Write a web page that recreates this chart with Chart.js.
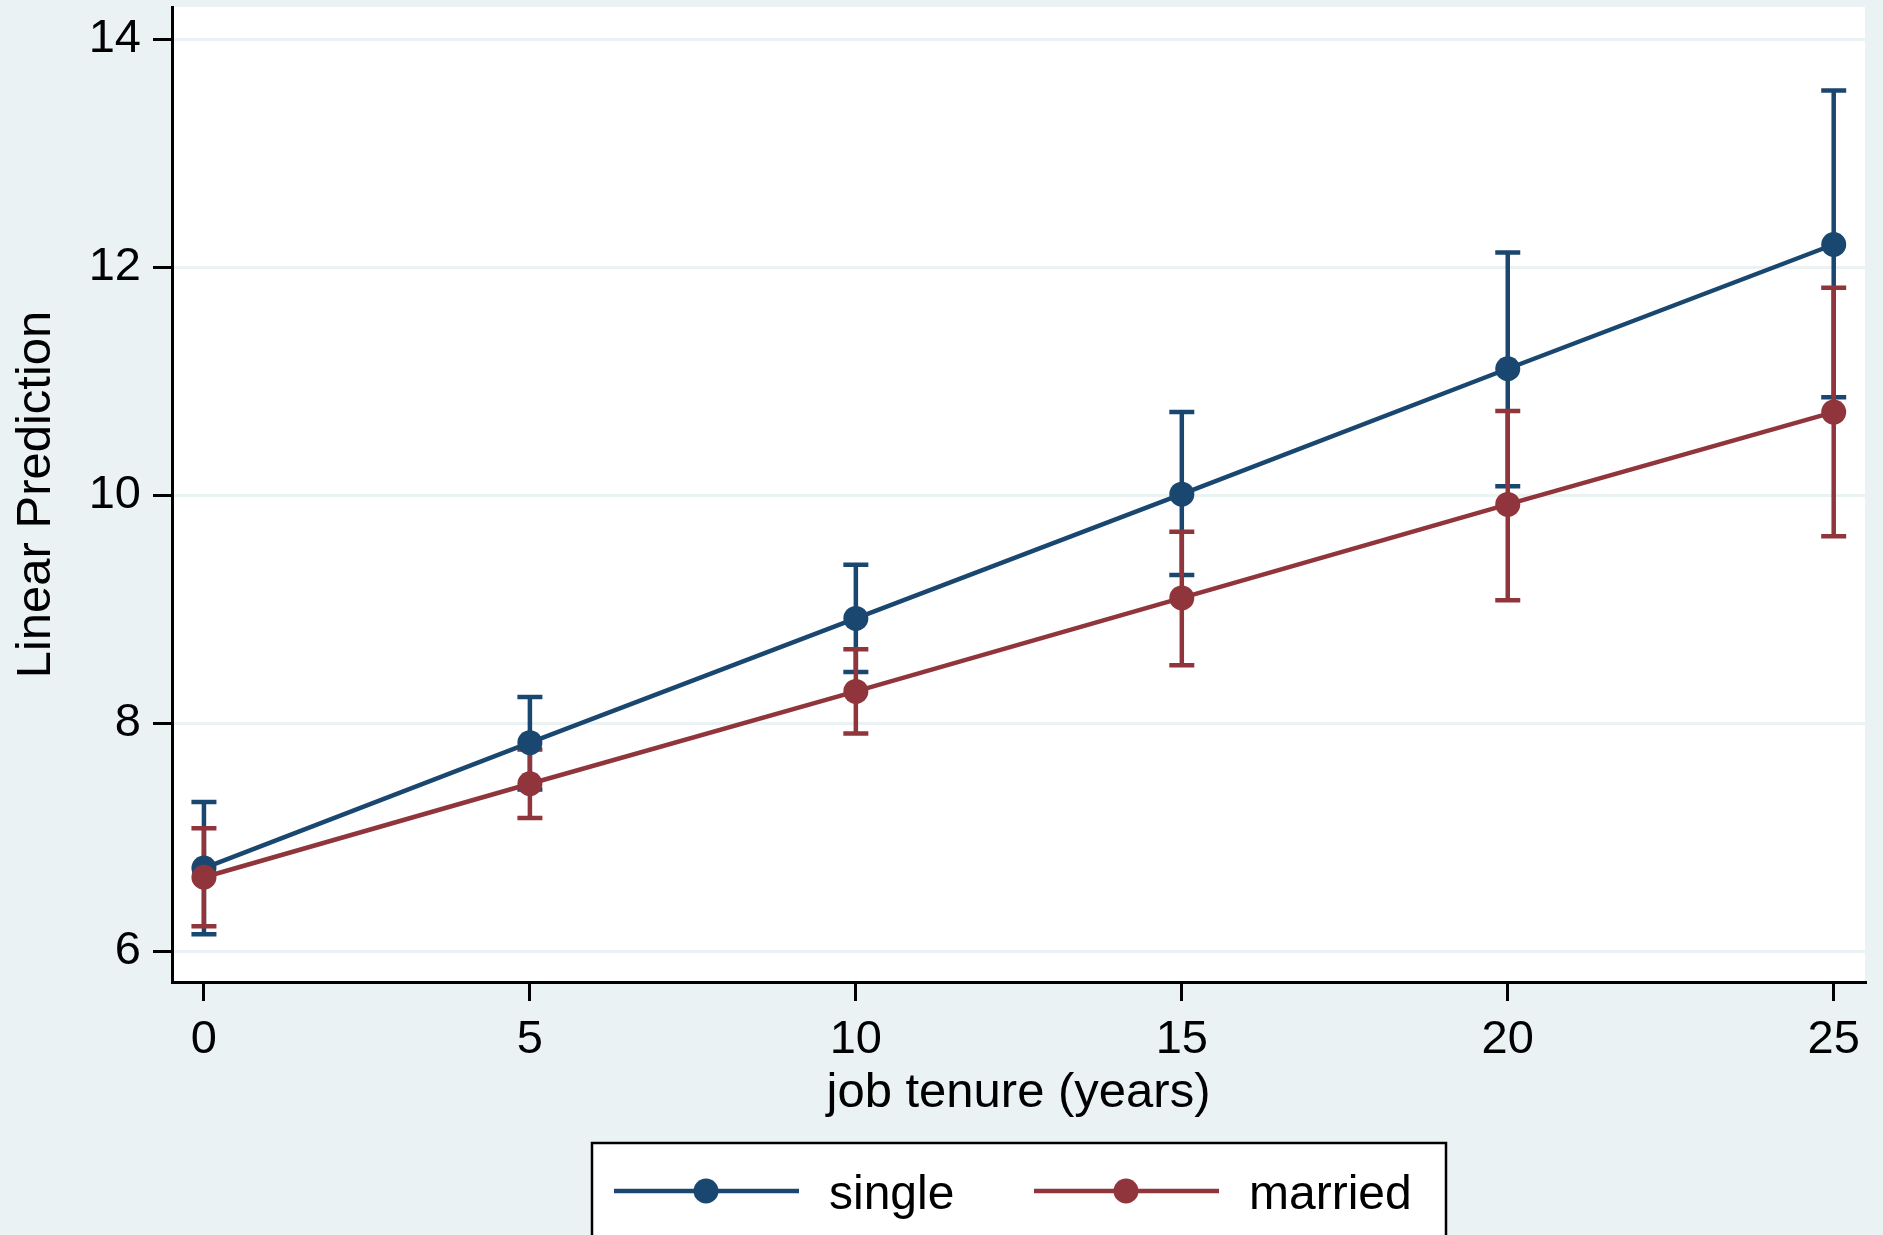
<!DOCTYPE html>
<html>
<head>
<meta charset="utf-8">
<script src="https://cdn.jsdelivr.net/npm/chart.js@4.4.1/dist/chart.umd.min.js"></script>
<style>
  html, body { margin: 0; padding: 0; background: #eaf2f3; }
  #wrap { width: 1883px; height: 1235px; position: relative; }
</style>
</head>
<body>
<div id="wrap"><canvas id="margins"></canvas></div>
<script>
// ===== marginsplot: linear prediction by job tenure =====
const tenure = [0, 5, 10, 15, 20, 25];
const xTicks = [0, 5, 10, 15, 20, 25];
const yTicks = [6, 8, 10, 12, 14];

const singleFit   = [6.73, 7.83, 8.92, 10.01, 11.11, 12.20];
const singleLow   = [6.15, 7.42, 8.45, 9.30, 10.08, 10.86];
const singleHigh  = [7.31, 8.23, 9.39, 10.73, 12.13, 13.55];

const marriedFit  = [6.65, 7.47, 8.28, 9.10, 9.92, 10.73];
const marriedLow  = [6.22, 7.17, 7.91, 8.51, 9.08, 9.64];
const marriedHigh = [7.08, 7.77, 8.65, 9.68, 10.74, 11.82];

const seriesNames = ["single", "married"];

const BLUE = "#1a476f", RED = "#90353b", BG = "#eaf2f3";
const FONT = "'Liberation Sans', Arial, Helvetica, sans-serif";

const ciSets = [
  { low: singleLow, high: singleHigh, color: BLUE },
  { low: marriedLow, high: marriedHigh, color: RED }
];

const pts = (ys) => tenure.map((x, i) => ({ x: x, y: ys[i] }));

// background + white plot region
const plotBg = {
  id: "plotBg",
  beforeDraw(chart) {
    const { ctx, chartArea: a } = chart;
    ctx.save();
    ctx.fillStyle = BG;
    ctx.fillRect(0, 0, chart.width, chart.height);
    ctx.fillStyle = "#ffffff";
    ctx.fillRect(a.left, a.top, a.right - a.left, a.bottom - a.top);
    ctx.restore();
  }
};

// confidence intervals (rcap) under the lines
const ciCaps = {
  id: "ciCaps",
  beforeDatasetsDraw(chart) {
    const { ctx, scales: { x, y } } = chart;
    ctx.save();
    ctx.lineWidth = 4.5;
    ctx.lineCap = "butt";
    ciSets.forEach(s => {
      ctx.strokeStyle = s.color;
      tenure.forEach((t, i) => {
        const px = x.getPixelForValue(t);
        const p1 = y.getPixelForValue(s.low[i]);
        const p2 = y.getPixelForValue(s.high[i]);
        ctx.beginPath();
        ctx.moveTo(px, p1); ctx.lineTo(px, p2);
        ctx.moveTo(px - 12.5, p1); ctx.lineTo(px + 12.5, p1);
        ctx.moveTo(px - 12.5, p2); ctx.lineTo(px + 12.5, p2);
        ctx.stroke();
      });
    });
    ctx.restore();
  }
};

// boxed legend under the plot
const boxLegend = {
  id: "boxLegend",
  afterDraw(chart) {
    const { ctx } = chart;
    ctx.save();
    ctx.strokeStyle = "#000";
    ctx.lineWidth = 2.5;
    ctx.fillStyle = "#ffffff";
    ctx.fillRect(592, 1143, 854, 100);
    ctx.strokeRect(592, 1143, 854, 100);
    const items = [
      { x0: 614, x1: 799, mx: 706, tx: 829, color: BLUE },
      { x0: 1034, x1: 1219, mx: 1126, tx: 1249, color: RED }
    ];
    items.forEach((it, i) => {
      ctx.strokeStyle = it.color;
      ctx.lineWidth = 4.5;
      ctx.beginPath();
      ctx.moveTo(it.x0, 1191); ctx.lineTo(it.x1, 1191);
      ctx.stroke();
      ctx.fillStyle = it.color;
      ctx.beginPath();
      ctx.arc(it.mx, 1191, 12.5, 0, Math.PI * 2);
      ctx.fill();
      ctx.fillStyle = "#000";
      ctx.font = "48px " + FONT;
      ctx.textBaseline = "middle";
      ctx.textAlign = "left";
      ctx.fillText(seriesNames[i], it.tx, 1196);
    });
    ctx.restore();
  }
};

new Chart(document.getElementById("margins"), {
  type: "line",
  data: {
    datasets: [
      { label: seriesNames[0], data: pts(singleFit), borderColor: BLUE, backgroundColor: BLUE,
        borderWidth: 4.5, pointRadius: 12.5, pointBorderWidth: 0, pointBackgroundColor: BLUE, order: 1 },
      { label: seriesNames[1], data: pts(marriedFit), borderColor: RED, backgroundColor: RED,
        borderWidth: 4.5, pointRadius: 12.5, pointBorderWidth: 0, pointBackgroundColor: RED, order: 0 }
    ]
  },
  options: {
    responsive: true, maintainAspectRatio: false, animation: false,
    layout: { autoPadding: false, padding: { left: 0, top: 7, right: 18, bottom: 0 } },
    plugins: { legend: { display: false }, tooltip: { enabled: false } },
    scales: {
      x: {
        type: "linear", min: -0.49, max: 25.48,
        afterBuildTicks: s => { s.ticks = xTicks.map(v => ({ value: v })); },
        afterFit: s => { s.height = 253; s.paddingLeft = 0; s.paddingRight = 0; },
        border: { color: "#000", width: 3 },
        grid: { drawOnChartArea: false, tickColor: "#000", lineWidth: 3, tickLength: 19 },
        ticks: { color: "#000", padding: 11, maxRotation: 0, font: { family: FONT, size: 47 } },
        title: { display: true, text: "job tenure (years)", color: "#000",
                 font: { family: FONT, size: 49 }, padding: { top: 0, bottom: 112 } }
      },
      y: {
        min: 5.731, max: 14.283,
        afterBuildTicks: s => { s.ticks = yTicks.map(v => ({ value: v })); },
        afterFit: s => { s.width = 172; s.paddingTop = 0; s.paddingBottom = 0; },
        border: { color: "#000", width: 3 },
        grid: { color: BG, lineWidth: 3, tickColor: "#000", tickLength: 19 },
        ticks: { color: "#000", padding: 12, font: { family: FONT, size: 47 } },
        title: { display: true, text: "Linear Prediction", color: "#000",
                 font: { family: FONT, size: 49 }, padding: { top: 7, bottom: 0 } }
      }
    }
  },
  plugins: [plotBg, ciCaps, boxLegend]
});
</script>
</body>
</html>
